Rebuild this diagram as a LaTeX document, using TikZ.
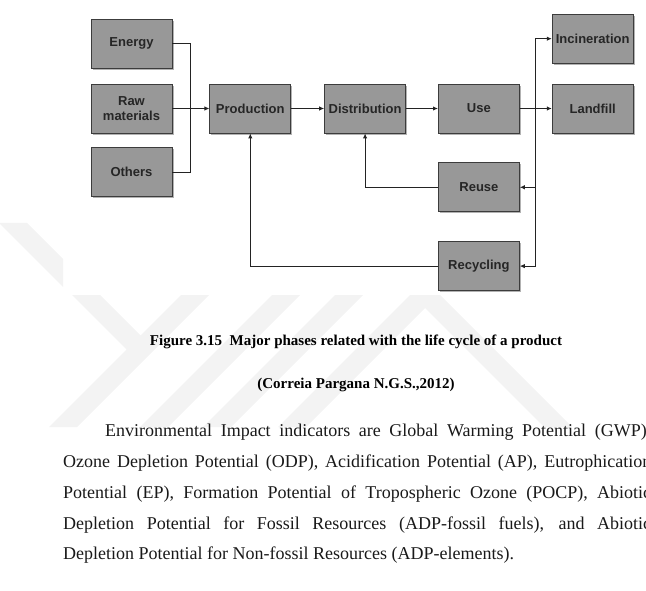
\documentclass[tikz,border=0pt]{standalone}
\usepackage{fontspec}
\setmainfont{Liberation Serif}
\newfontfamily\boxfont{Liberation Sans}
\usetikzlibrary{positioning, calc, arrows.meta, shadows}

\definecolor{boxgray}{RGB}{152,152,152}
\definecolor{edgegray}{RGB}{60,60,60}
\definecolor{wiregray}{RGB}{35,35,35}
\definecolor{markgray}{RGB}{243,243,243}

\begin{document}
\begin{tikzpicture}[
  x=1pt, y=-1pt,
  >={Latex[length=5pt, width=4.5pt]},
  block/.style = {draw=edgegray, line width=0.8pt, fill=boxgray, rectangle,
                  minimum height=49pt, minimum width=81pt, align=center,
                  font=\boxfont\bfseries\fontsize{13}{15.5}\selectfont, text=black!85,
                  drop shadow={shadow xshift=1.6pt, shadow yshift=-1.6pt, fill=black, opacity=0.3}},
  wire/.style  = {draw=wiregray, line width=1.1pt},
  wmark/.style = {fill=markgray, draw=none},
  capt/.style  = {font=\bfseries\fontsize{15}{18}\selectfont, inner sep=0pt},
]
  \useasboundingbox (0,0) rectangle (646,591);

  % ---- faint watermark behind everything ----
  \fill[wmark] (0,223) -- (27,223) -- (63,259) -- (63,287) -- (0,224) -- cycle;
  \fill[wmark] (72,295) -- (100,295) -- (140.5,335.5) -- (181,295) -- (209,295)
               -- (77,427) -- (49,427) -- (126.5,349.5) -- cycle;
  \fill[wmark] (272,295) -- (300,295) -- (168,427) -- (140,427) -- cycle;
  \fill[wmark] (335,295) -- (363,295) -- (231,427) -- (203,427) -- cycle;
  \fill[wmark] (410,295) -- (440,295) -- (572,427) -- (544,427) -- (425,308)
               -- (306,427) -- (278,427) -- cycle;

  % ---- inputs ----
  \node[block]                      (raw)    at (131.5,108.5) {Raw\\materials};
  \node[block, above=15pt of raw]   (energy) {Energy};
  \node[block, below=14pt of raw]   (others) {Others};

  % ---- life cycle chain ----
  \node[block, right=37pt of raw]   (prod)   {Production};
  \node[block, right=33pt of prod]  (dist)   {Distribution};
  \node[block, right=32pt of dist]  (use)    {Use};
  \node[block, right=32pt of use]   (land)   {Landfill};
  \node[block, above=20pt of land]  (incin)  {Incineration};
  \node[block, below=29pt of use]   (reuse)  {Reuse};
  \node[block, below=29pt of reuse] (recyc)  {Recycling};

  % junctions halfway between the columns
  \coordinate (jin)  at ($(raw.east)!0.5!(prod.west)$);
  \coordinate (jout) at ($(use.east)!0.5!(land.west)$);

  \draw[wire]     (energy) -| (jin);
  \draw[wire]     (others) -| (jin);
  \draw[wire, ->] (raw)  -- (prod);
  \draw[wire, ->] (prod) -- (dist);
  \draw[wire, ->] (dist) -- (use);
  \draw[wire, ->] (use)  -- (land);

  % ---- end of life: split to the right, loops back ----
  \draw[wire, ->] (jout |- recyc) -- (jout |- incin) -- (incin);
  \draw[wire, ->] (jout |- reuse) -- (reuse);
  \draw[wire, ->] (jout |- recyc) -- (recyc);
  \draw[wire, ->] (reuse) -| (dist);
  \draw[wire, ->] (recyc) -| (prod);

  % ---- caption and following text ----
  \node[capt] (caption) at (356,342) {Figure 3.15~ Major phases related with the life cycle of a product};
  \node[capt] (source)  at (356,385) {(Correia Pargana N.G.S.,2012)};

  \node[anchor=north west, inner sep=0pt, text width=588pt, align=justify,
        font=\fontsize{18}{30.8}\selectfont, text=black!90] (para) at (63,424)
    {\hspace*{42pt}Environmental Impact indicators are Global Warming Potential (GWP),\linebreak
     Ozone Depletion Potential (ODP), Acidification Potential (AP), Eutrophication\linebreak
     Potential (EP), Formation Potential of Tropospheric Ozone (POCP), Abiotic\linebreak
     Depletion Potential for Fossil Resources (ADP-fossil fuels), and Abiotic\linebreak
     Depletion Potential for Non-fossil Resources (ADP-elements).};
\end{tikzpicture}
\end{document}
